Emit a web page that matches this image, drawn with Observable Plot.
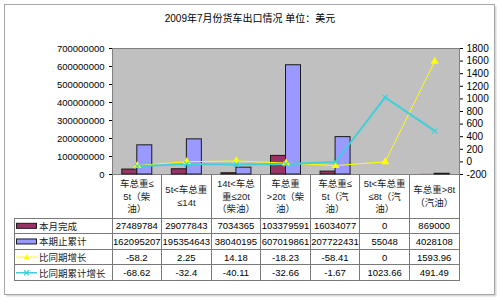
<!DOCTYPE html>
<html><head><meta charset="utf-8">
<script src="https://cdn.jsdelivr.net/npm/d3@7"></script>
<script src="https://cdn.jsdelivr.net/npm/@observablehq/plot@0.6"></script>
<style>
html,body{margin:0;padding:0;background:#fff;}
#wrap{position:relative;width:500px;height:299px;overflow:hidden;}
#wrap svg{position:absolute;left:0;top:0;}
</style></head><body><div id="wrap"></div>
<script>
const title = "2009年7月份货车出口情况 单位：美元";
const categories = ["车总重≤5t（柴油）", "5t<车总重≤14t", "14t<车总重≤20t（柴油）", "车总重>20t（柴油）", "车总重≤5t（汽油）", "5t<车总重≤8t（汽油）", "车总重>8t（汽油）"];
const categoryLines = [["车总重≤", "5t（柴", "油）"], ["5t<车总重", "≤14t"], ["14t<车总", "重≤20t", "（柴油）"], ["车总重", ">20t（柴", "油）"], ["车总重≤", "5t（汽", "油）"], ["5t<车总重", "≤8t（汽", "油）"], ["车总重>8t", "（汽油）"]];
const seriesNames = ["本月完成", "本期止累计", "比同期增长", "比同期累计增长"];
const monthly = [27489784, 29077843, 7034365, 103379591, 16034077, 0, 869000];
const cumulative = [162095207, 195354643, 38040195, 607019861, 207722431, 55048, 4028108];
const growth = [-58.2, 2.25, 14.18, -18.23, -58.41, 0, 1593.96];
const cumGrowth = [-68.62, -32.4, -40.11, -32.66, -1.67, 1023.66, 491.49];
const leftTicks = [0, 100000000, 200000000, 300000000, 400000000, 500000000, 600000000, 700000000];
const rightTicks = [-200, 0, 200, 400, 600, 800, 1000, 1200, 1400, 1600, 1800];

const colors = ["#993366", "#9999ff", "#ffff00", "#40d0d8"];
const W = 500, H = 299;
const margins = {marginLeft: 112, marginRight: 41, marginTop: 48, marginBottom: 125};
const xOpts = {domain: categories, paddingInner: 0.395, paddingOuter: 0.1975, round: false, axis: null};
const numFont = "Liberation Sans, Arial, sans-serif";
const cjkFont = "Liberation Sans, Noto Sans CJK SC, sans-serif";

const monthlyData = categories.map((c, i) => ({cat: c, v: monthly[i]}));
const cumData = categories.map((c, i) => ({cat: c, v: cumulative[i]}));
const lineData = categories.map((c, i) => ({cat: c, g: growth[i], cg: cumGrowth[i]}));

const p1 = Plot.plot({
  width: W, height: H, ...margins,
  style: {background: "transparent", overflow: "visible", color: "#000"},
  x: xOpts,
  y: {domain: [0, 700000000], axis: null},
  marks: [
    Plot.frame({fill: "#c0c0c0", stroke: "#808080"}),
    Plot.axisY(leftTicks, {anchor: "left", tickSize: 3, tickPadding: 5, tickFormat: d => String(d), label: null, fontSize: 9.5, fontFamily: numFont}),
    Plot.barY(monthlyData, {x: "cat", y: "v", fill: colors[0], stroke: "#1a1a1a", strokeOpacity: d => d.v >= 1e6 ? 1 : 0, insetRight: 15}),
    Plot.barY(cumData, {x: "cat", y: "v", fill: colors[1], stroke: "#1a1a1a", strokeOpacity: d => d.v >= 1e6 ? 1 : 0, insetLeft: 15})
  ]
});

const svg = d3.select(p1);
// outer chart frame behind everything
const bg = svg.insert("g", ":first-child");
bg.append("rect").attr("x", 6.5).attr("y", 6.5).attr("width", 490).attr("height", 290).attr("fill", "#d8d8d8");
bg.append("rect").attr("x", 4.5).attr("y", 4.5).attr("width", 490).attr("height", 290).attr("fill", "#fff").attr("stroke", "#a8a8a8");

svg.append("text").attr("x", 250).attr("y", 18).attr("text-anchor", "middle").attr("dominant-baseline", "central")
  .attr("font-family", "Liberation Sans, Noto Sans CJK SC, sans-serif").attr("font-size", 10).attr("fill", "#000").text(title);

// data table using the plot's x scale
const xs = p1.scale("x");
const step = xs.step, bw = xs.bandwidth;
const colLeft = c => xs.apply(c) - (step - bw) / 2;
const colCenter = c => xs.apply(c) + bw / 2;
const frameBottom = H - margins.marginBottom;
const tableLeft = 14, tableRight = W - margins.marginRight, legendRight = margins.marginLeft;
const rowTop = 218, rowH = 15.65;
const tableBottom = rowTop + rowH * 4;
const tg = svg.append("g").attr("stroke", "#7a7a7a").attr("stroke-width", 1).attr("shape-rendering", "crispEdges");
for (let r = 0; r <= 4; r++) {
  const y = rowTop + r * rowH;
  tg.append("line").attr("x1", tableLeft).attr("x2", tableRight).attr("y1", y).attr("y2", y);
}
tg.append("line").attr("x1", tableLeft).attr("x2", tableLeft).attr("y1", rowTop).attr("y2", tableBottom);
categories.forEach(c => {
  const x = colLeft(c);
  tg.append("line").attr("x1", x).attr("x2", x).attr("y1", frameBottom).attr("y2", tableBottom);
});
tg.append("line").attr("x1", tableRight).attr("x2", tableRight).attr("y1", frameBottom).attr("y2", tableBottom);

// category labels
const lab = svg.append("g").attr("font-family", cjkFont).attr("font-size", 9.5).attr("fill", "#222").attr("text-anchor", "middle");
const labCenter = (frameBottom + rowTop) / 2, lh = 12.3;
categories.forEach((c, i) => {
  const lines = categoryLines[i];
  lines.forEach((t, j) => {
    lab.append("text").attr("x", colCenter(c)).attr("y", labCenter + (j - (lines.length - 1) / 2) * lh)
      .attr("dominant-baseline", "central").text(t);
  });
});

// values
const rows = [monthly, cumulative, growth, cumGrowth];
const vg = svg.append("g").attr("font-family", numFont).attr("font-size", 9.5).attr("fill", "#000").attr("text-anchor", "middle");
rows.forEach((arr, r) => {
  const yc = rowTop + rowH * (r + 0.5);
  categories.forEach((c, i) => {
    vg.append("text").attr("x", colCenter(c)).attr("y", yc).attr("dominant-baseline", "central").text(String(arr[i]));
  });
});

// legend cells
const lg = svg.append("g");
seriesNames.forEach((s, r) => {
  const yc = rowTop + rowH * (r + 0.5);
  if (r < 2) {
    lg.append("rect").attr("x", 16.5).attr("y", yc - 2.5).attr("width", 20).attr("height", 5).attr("fill", colors[r]).attr("stroke", "#1a1a1a");
  } else {
    lg.append("line").attr("x1", 16).attr("x2", 37).attr("y1", yc).attr("y2", yc).attr("stroke", colors[r]).attr("stroke-width", r === 3 ? 1.5 : 1);
    if (r === 2) {
      lg.append("path").attr("d", `M26.5,${yc - 3}L29.5,${yc + 2}L23.5,${yc + 2}Z`).attr("fill", colors[r]);
    } else {
      lg.append("path").attr("d", `M24,${yc - 2.5}L29,${yc + 2.5}M29,${yc - 2.5}L24,${yc + 2.5}`).attr("stroke", colors[r]).attr("stroke-width", 1.2);
    }
  }
  lg.append("text").attr("x", 39).attr("y", yc).attr("dominant-baseline", "central").attr("text-anchor", "start")
    .attr("font-family", "Noto Sans CJK SC, sans-serif").attr("font-size", 9.5).attr("fill", "#222").text(s);
});

const p2 = Plot.plot({
  width: W, height: H, ...margins,
  style: {background: "transparent", overflow: "visible", color: "#000"},
  x: xOpts,
  y: {domain: [-200, 1800], axis: null},
  marks: [
    Plot.axisY(rightTicks, {anchor: "right", tickSize: 3, tickPadding: 4, tickFormat: d => String(d), label: null, fontSize: 10, fontFamily: numFont}),
    Plot.lineY(lineData, {x: "cat", y: "g", stroke: colors[2], strokeWidth: 1}),
    Plot.lineY(lineData, {x: "cat", y: "cg", stroke: colors[3], strokeWidth: 2}),
    Plot.dot(lineData, {x: "cat", y: "g", symbol: "triangle", fill: colors[2], r: 3}),
    Plot.dot(lineData, {x: "cat", y: "cg", symbol: "times", stroke: colors[3], strokeWidth: 1.2, r: 2.5})
  ]
});

const wrap = document.getElementById("wrap");
wrap.appendChild(p1);
wrap.appendChild(p2);
</script>
</body></html>
